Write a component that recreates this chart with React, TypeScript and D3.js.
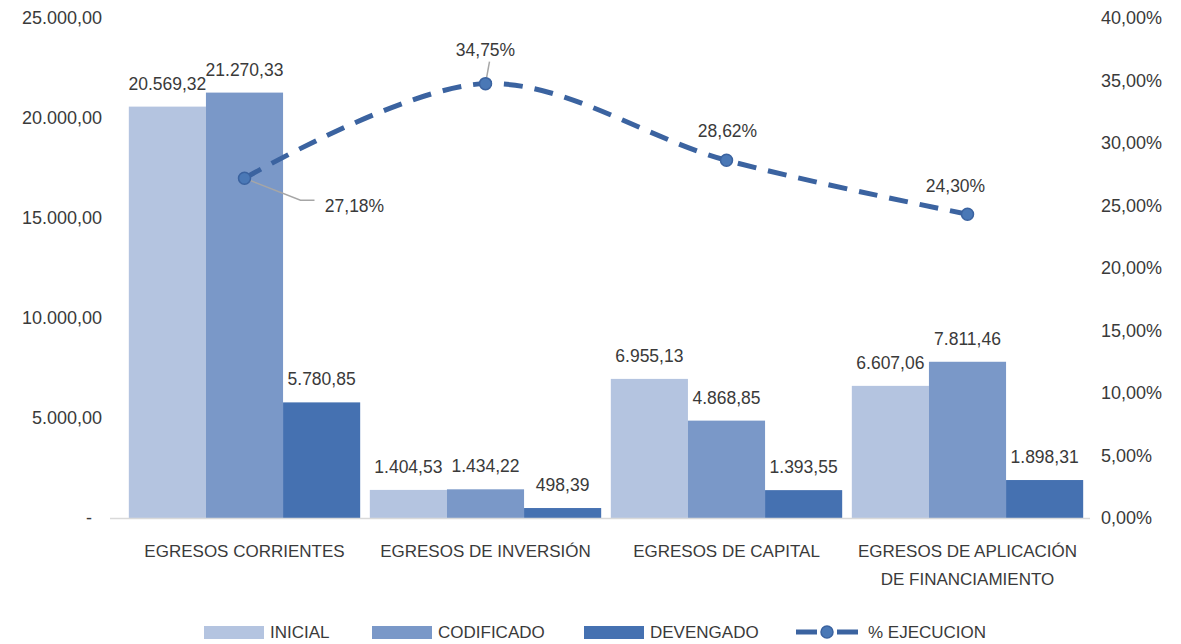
import { useEffect, useRef } from "react";
import * as d3 from "d3";

// ---- data ----
const categories = [
  ["EGRESOS CORRIENTES"],
  ["EGRESOS DE INVERSIÓN"],
  ["EGRESOS DE CAPITAL"],
  ["EGRESOS DE APLICACIÓN", "DE FINANCIAMIENTO"],
];
const seriesNames = ["INICIAL", "CODIFICADO", "DEVENGADO"];
const inicial = [20569.32, 1404.53, 6955.13, 6607.06];
const codificado = [21270.33, 1434.22, 4868.85, 7811.46];
const devengado = [5780.85, 498.39, 1393.55, 1898.31];
const ejecucion = [27.18, 34.75, 28.62, 24.3];
const leftTicks = [0, 5000, 10000, 15000, 20000, 25000];
const rightTicks = [0, 5, 10, 15, 20, 25, 30, 35, 40];
const lineName = "% EJECUCION";

const barColors = ["#b4c4e0", "#7a98c8", "#4571b1"];
const lineColor = "#3b63a0";
const textColor = "#3a3a3a";
const font = "'Liberation Sans', Arial, sans-serif";

// label offsets for the % labels (relative to marker)
const pctLabelOffsets = [
  { dx: 110, dy: 28, leader: true },
  { dx: 0, dy: -34, leader: true },
  { dx: 1, dy: -29, leader: false },
  { dx: -12, dy: -28, leader: false },
];

const esLocale = d3.formatLocale({
  decimal: ",",
  thousands: ".",
  grouping: [3],
  currency: ["", ""],
});
const fmtNum = esLocale.format(",.2f");
const fmtPct = (v: number) => esLocale.format(".2f")(v) + "%";

const W = 1181;
const H = 644;

export default function App() {
  const svgRef = useRef<SVGSVGElement | null>(null);

  useEffect(() => {
    const margin = { top: 18, right: 93, bottom: 126, left: 124 };
    const x0 = margin.left;
    const x1 = W - margin.right;
    const yBase = H - margin.bottom;

    const svg = d3.select(svgRef.current);
    svg.selectAll("*").remove();
    svg.style("font-family", font);

    const xScale = d3
      .scaleBand<number>()
      .domain(d3.range(categories.length))
      .range([x0, x1])
      .paddingInner(0.04)
      .paddingOuter(0.02);

    const xSub = d3
      .scaleBand<number>()
      .domain(d3.range(seriesNames.length))
      .range([0, xScale.bandwidth()]);

    const yLeft = d3.scaleLinear().domain([0, 25000]).range([yBase, margin.top]);
    const yRight = d3.scaleLinear().domain([0, 40]).range([yBase, margin.top]);

    // left axis labels
    svg
      .append("g")
      .selectAll("text")
      .data(leftTicks)
      .join("text")
      .attr("x", (d) => (d === 0 ? 92 : 102))
      .attr("y", (d) => yLeft(d))
      .attr("dy", "0.35em")
      .attr("text-anchor", "end")
      .attr("font-size", 18)
      .attr("fill", textColor)
      .text((d) => (d === 0 ? "-" : fmtNum(d)));

    // right axis labels
    svg
      .append("g")
      .selectAll("text")
      .data(rightTicks)
      .join("text")
      .attr("x", 1101)
      .attr("y", (d) => yRight(d))
      .attr("dy", "0.35em")
      .attr("text-anchor", "start")
      .attr("font-size", 18)
      .attr("fill", textColor)
      .text((d) => fmtPct(d));

    // bars
    const series = [inicial, codificado, devengado];
    const barData = series.flatMap((vals, s) =>
      vals.map((v, c) => ({ s, c, v })),
    );

    svg
      .append("g")
      .selectAll("rect")
      .data(barData)
      .join("rect")
      .attr("x", (d) => (xScale(d.c) ?? 0) + (xSub(d.s) ?? 0))
      .attr("y", (d) => yLeft(d.v))
      .attr("width", xSub.bandwidth())
      .attr("height", (d) => yBase - yLeft(d.v))
      .attr("fill", (d) => barColors[d.s]);

    // baseline
    svg
      .append("line")
      .attr("x1", x0 - 14)
      .attr("x2", x1 + 2)
      .attr("y1", yBase + 0.5)
      .attr("y2", yBase + 0.5)
      .attr("stroke", "#d9d9d9")
      .attr("stroke-width", 1.5);

    // bar labels
    svg
      .append("g")
      .selectAll("text")
      .data(barData)
      .join("text")
      .attr("x", (d) => (xScale(d.c) ?? 0) + (xSub(d.s) ?? 0) + xSub.bandwidth() / 2)
      .attr("y", (d) => yLeft(d.v) - 17)
      .attr("text-anchor", "middle")
      .attr("font-size", 17.5)
      .attr("fill", textColor)
      .text((d) => fmtNum(d.v));

    // category labels
    const cat = svg
      .append("g")
      .selectAll("text")
      .data(categories)
      .join("text")
      .attr("x", (_, i) => (xScale(i) ?? 0) + xScale.bandwidth() / 2)
      .attr("y", yBase + 39)
      .attr("text-anchor", "middle")
      .attr("font-size", 17)
      .attr("fill", textColor);
    cat
      .selectAll("tspan")
      .data((d) => d)
      .join("tspan")
      .attr("x", function () {
        return (this.parentNode as SVGTextElement).getAttribute("x");
      })
      .attr("dy", (_, i) => (i === 0 ? 0 : 28))
      .text((d) => d);

    // line series
    const pts = ejecucion.map((v, i) => ({
      x: (xScale(i) ?? 0) + xScale.bandwidth() / 2,
      y: yRight(v),
      v,
    }));

    // leader lines
    pts.forEach((p, i) => {
      const o = pctLabelOffsets[i];
      if (!o.leader) return;
      if (o.dx > 20) {
        svg
          .append("polyline")
          .attr(
            "points",
            `${p.x},${p.y} ${p.x + 56},${p.y + 22} ${p.x + 70},${p.y + 22}`,
          )
          .attr("fill", "none")
          .attr("stroke", "#a6a6a6")
          .attr("stroke-width", 1.5);
      } else {
        svg
          .append("line")
          .attr("x1", p.x)
          .attr("y1", p.y)
          .attr("x2", p.x + 4)
          .attr("y2", p.y - 22)
          .attr("stroke", "#a6a6a6")
          .attr("stroke-width", 1.5);
      }
    });

    const line = d3
      .line<{ x: number; y: number }>()
      .x((d) => d.x)
      .y((d) => d.y)
      .curve(d3.curveCatmullRom.alpha(0.5));

    svg
      .append("path")
      .datum(pts)
      .attr("d", line)
      .attr("fill", "none")
      .attr("stroke", lineColor)
      .attr("stroke-width", 5)
      .attr("stroke-dasharray", "19,12");

    svg
      .append("g")
      .selectAll("circle")
      .data(pts)
      .join("circle")
      .attr("cx", (d) => d.x)
      .attr("cy", (d) => d.y)
      .attr("r", 6)
      .attr("fill", "#4a78b6")
      .attr("stroke", lineColor)
      .attr("stroke-width", 1.5);

    svg
      .append("g")
      .selectAll("text")
      .data(pts)
      .join("text")
      .attr("x", (d, i) => d.x + pctLabelOffsets[i].dx)
      .attr("y", (d, i) => d.y + pctLabelOffsets[i].dy)
      .attr("dy", "0.35em")
      .attr("text-anchor", "middle")
      .attr("font-size", 17.5)
      .attr("fill", textColor)
      .text((d) => fmtPct(d.v));

    // legend
    const legendY = 632;
    const swatchX = [204, 372, 584];
    seriesNames.forEach((name, i) => {
      svg
        .append("rect")
        .attr("x", swatchX[i])
        .attr("y", legendY - 6)
        .attr("width", 60)
        .attr("height", 13)
        .attr("fill", barColors[i]);
      svg
        .append("text")
        .attr("x", swatchX[i] + 66)
        .attr("y", legendY)
        .attr("dy", "0.35em")
        .attr("font-size", 17)
        .attr("fill", textColor)
        .text(name);
    });
    svg
      .append("line")
      .attr("x1", 796)
      .attr("x2", 817)
      .attr("y1", legendY)
      .attr("y2", legendY)
      .attr("stroke", lineColor)
      .attr("stroke-width", 5);
    svg
      .append("line")
      .attr("x1", 837)
      .attr("x2", 858)
      .attr("y1", legendY)
      .attr("y2", legendY)
      .attr("stroke", lineColor)
      .attr("stroke-width", 5);
    svg
      .append("circle")
      .attr("cx", 827)
      .attr("cy", legendY)
      .attr("r", 6)
      .attr("fill", "#4a78b6")
      .attr("stroke", lineColor)
      .attr("stroke-width", 1.5);
    svg
      .append("text")
      .attr("x", 868)
      .attr("y", legendY)
      .attr("dy", "0.35em")
      .attr("font-size", 17)
      .attr("fill", textColor)
      .text(lineName);
  }, []);

  return (
    <svg
      ref={svgRef}
      width={W}
      height={H}
      style={{ position: "absolute", left: 0, top: 0, background: "white" }}
    />
  );
}
